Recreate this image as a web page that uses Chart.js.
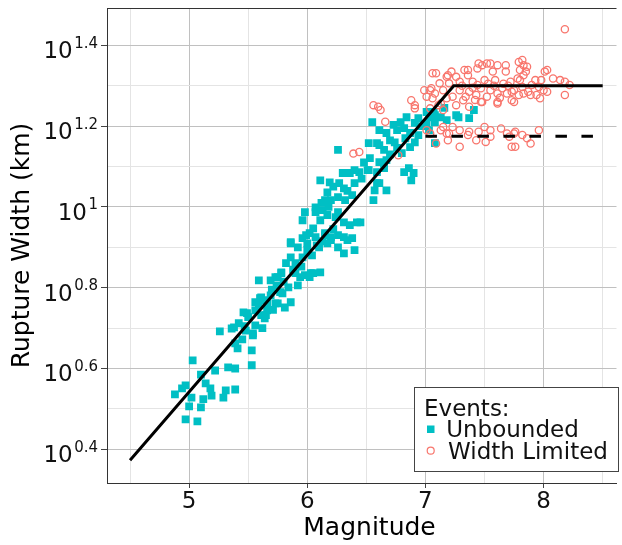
<!DOCTYPE html>
<html>
<head>
<meta charset="utf-8">
<script src="https://cdn.jsdelivr.net/npm/chart.js@4"></script>
<style>
  html, body { margin: 0; padding: 0; background: #fff; }
  #wrap { width: 622px; height: 545px; }
</style>
</head>
<body>
<div id="wrap"><canvas id="chart" width="622" height="545"></canvas></div>
<script>
// ───── Rupture width vs magnitude ─────────────────────────────────────────
// Scatter of unbounded / width-limited events with the bilinear scaling fit.
// Y values are log10(width in km); the axis labels are drawn as 10^x.

// Unbounded events (magnitude, log10 width)
const unbMag = [
  4.88, 4.94, 4.97, 5.03, 5.02, 5.00, 4.97, 5.07, 5.10, 5.12, 5.10, 5.14, 5.18, 5.19, 5.22,
  5.26, 5.31, 5.29, 5.39, 5.33, 5.39, 5.36, 5.42, 5.39, 5.41, 5.46, 5.49, 5.53, 5.53, 5.54,
  5.56, 5.59, 5.61, 5.64, 5.59, 5.56, 5.66, 5.73, 5.73, 5.81, 5.86, 5.77, 5.84, 5.92, 5.90,
  5.98, 6.03, 5.78, 5.38, 5.48, 5.50, 5.56, 5.60, 5.63, 5.65, 5.61, 5.69, 5.69, 5.74, 5.75,
  5.78, 5.79, 5.75, 5.82, 5.86, 5.90, 5.94, 5.86, 5.92, 5.96, 5.96, 6.02, 6.00, 6.05, 6.11,
  6.07, 6.15, 6.17, 6.20, 6.02, 5.54,
  6.26, 6.53, 6.59, 6.65, 6.51, 6.44, 6.36, 6.30, 6.11, 6.19, 6.27, 6.31, 6.40, 6.38, 6.61,
  6.57, 6.17, 6.20, 6.15, 6.26, 6.32, 6.07, 6.07, 6.13, 6.17, 6.11, 5.98, 5.96, 6.26, 6.31,
  6.42, 6.36, 6.05, 5.99, 6.15, 6.26, 6.31, 6.38, 5.86, 6.00, 6.20, 6.10, 6.26, 6.40, 6.31,
  6.34, 6.45,
  6.55, 6.84, 6.94, 7.01, 7.08, 7.16, 7.01, 7.08, 7.26, 6.91, 6.73, 6.61, 6.67, 6.76, 6.82,
  6.87, 6.94, 6.91, 6.70, 6.74, 6.52, 6.61, 6.65, 6.76, 6.80, 6.87, 6.61, 6.67, 6.40, 6.52,
  6.59, 6.65, 6.86, 6.90, 7.08, 6.88, 6.82, 6.67, 6.59, 6.56, 7.37, 7.41, 7.07, 7.03, 7.13,
  7.28, 7.18, 7.03,
  5.88, 5.95, 6.04, 6.08, 6.13, 6.22, 6.24, 6.12, 6.18, 6.22, 6.34, 6.46, 6.48, 5.70, 5.66,
  5.71, 5.80, 5.62, 5.45, 5.47, 6.70, 6.83, 6.97, 6.79
];
const unbLogW = [
  0.536, 0.551, 0.558, 0.620, 0.528, 0.506, 0.474, 0.469, 0.504, 0.524, 0.585, 0.563, 0.551, 0.533, 0.595,
  0.692, 0.546, 0.528, 0.548, 0.603, 0.600, 0.699, 0.712, 0.662, 0.650, 0.739, 0.737, 0.645, 0.608, 0.682,
  0.707, 0.756, 0.776, 0.724, 0.818, 0.744, 0.744, 0.761, 0.826, 0.751, 0.764, 0.789, 0.801, 0.806, 0.836,
  0.831, 0.836, 0.836, 0.702, 0.694, 0.727, 0.764, 0.774, 0.769, 0.732, 0.732, 0.781, 0.818, 0.806, 0.826,
  0.838, 0.786, 0.761, 0.861, 0.875, 0.861, 0.826, 0.910, 0.900, 0.923, 0.875, 0.935, 0.893, 0.836, 0.838,
  0.925, 0.935, 0.910, 0.925, 0.826, 0.687,
  1.141, 1.121, 1.158, 1.108, 1.091, 1.086, 1.084, 1.084, 1.066, 1.061, 1.059, 1.046, 1.059, 1.029, 1.059,
  1.041, 1.036, 1.017, 1.017, 1.024, 1.017, 0.999, 0.987, 0.992, 0.980, 0.967, 0.987, 0.967, 0.987, 0.962,
  0.962, 0.955, 0.947, 0.930, 0.930, 0.930, 0.925, 0.923, 0.913, 0.910, 0.918, 0.900, 0.900, 0.893, 0.885,
  0.918, 0.962,
  1.210, 1.222, 1.220, 1.235, 1.227, 1.245, 1.208, 1.210, 1.227, 1.208, 1.203, 1.190, 1.183, 1.190, 1.195,
  1.183, 1.178, 1.160, 1.165, 1.160, 1.158, 1.153, 1.141, 1.146, 1.133, 1.148, 1.111, 1.116, 1.091, 1.091,
  1.086, 1.096, 1.096, 1.084, 1.158, 1.066, 1.086, 1.041, 1.059, 1.017, 1.220, 1.240, 1.235, 1.222, 1.222,
  1.222, 1.215, 1.190,
  0.845, 0.852, 0.880, 0.905, 0.915, 0.945, 0.975, 1.010, 1.000, 1.050, 1.040, 1.070, 1.110, 0.795, 0.760,
  0.745, 0.815, 0.700, 0.672, 0.705, 1.130, 1.170, 1.200, 1.210
];

// Width limited events (magnitude, log10 width)
const wlMag = [
  6.56, 6.60, 6.62, 6.88, 6.91, 6.91, 6.99, 7.01, 7.05, 7.08, 7.12, 7.15, 7.18, 7.13, 7.09,
  7.18, 7.22, 7.26, 7.33, 7.36, 7.44, 7.48, 7.55, 7.61, 7.68, 7.79, 7.68, 7.57, 7.20, 7.29,
  7.40, 7.50, 7.59, 7.72, 7.80, 7.04, 7.37, 7.47, 7.55, 7.65, 7.75, 7.82, 7.29, 7.06, 7.23,
  7.34, 7.43, 7.52, 7.61, 7.69, 7.79, 7.32, 7.48, 7.75, 7.61, 7.11, 7.04, 7.15, 7.26, 7.37,
  8.18, 7.82, 7.83, 7.86, 7.80, 7.83, 7.78, 8.03, 8.01, 8.08, 8.14, 8.18, 8.22, 7.93, 7.98,
  7.90, 7.96, 8.00, 8.03, 7.94, 7.89, 7.83, 7.73, 7.97, 8.18, 7.45, 7.52, 7.85, 7.06, 7.19,
  7.36, 7.87, 7.73, 7.61, 7.47, 6.66, 7.01, 7.13, 7.18, 7.23, 6.39, 6.44, 6.77, 7.09, 7.04,
  7.20, 7.29, 7.37, 7.45, 7.55, 7.64, 7.69, 7.76, 7.29, 7.43, 7.51, 7.73, 7.19, 7.15, 7.50,
  7.55, 7.71, 7.82, 7.89, 7.96, 7.36, 7.75, 7.86, 7.76,
  7.40, 7.58, 7.66, 7.44, 7.53, 7.31, 7.70, 7.63, 7.42
];
const wlLogW = [
  1.252, 1.248, 1.240, 1.264, 1.252, 1.244, 1.289, 1.273, 1.294, 1.281, 1.306, 1.289, 1.269, 1.256, 1.331,
  1.322, 1.335, 1.322, 1.339, 1.326, 1.343, 1.351, 1.355, 1.351, 1.351, 1.359, 1.335, 1.335, 1.306, 1.310,
  1.310, 1.314, 1.314, 1.310, 1.314, 1.289, 1.285, 1.294, 1.289, 1.294, 1.289, 1.297, 1.289, 1.269, 1.273,
  1.273, 1.277, 1.273, 1.281, 1.281, 1.277, 1.264, 1.260, 1.260, 1.260, 1.252, 1.244, 1.240, 1.252, 1.248,
  1.440, 1.364, 1.351, 1.347, 1.339, 1.326, 1.318, 1.339, 1.335, 1.318, 1.314, 1.310, 1.302, 1.314, 1.314,
  1.302, 1.297, 1.289, 1.285, 1.277, 1.277, 1.281, 1.285, 1.269, 1.277, 1.355, 1.355, 1.335, 1.331, 1.326,
  1.339, 1.285, 1.264, 1.256, 1.260, 1.211, 1.190, 1.190, 1.182, 1.198, 1.132, 1.136, 1.128, 1.157, 1.182,
  1.182, 1.190, 1.186, 1.186, 1.190, 1.194, 1.182, 1.186, 1.149, 1.165, 1.161, 1.149, 1.165, 1.198, 1.198,
  1.174, 1.174, 1.178, 1.157, 1.190, 1.178, 1.182, 1.170, 1.149,
  1.295, 1.300, 1.305, 1.302, 1.305, 1.300, 1.300, 1.270, 1.265
];

// Bilinear scaling relation and the dashed width-limit line
const fitMag = [4.5, 7.24, 8.5];
const fitLogW = [0.373, 1.30, 1.30];
const limMag = [7.0, 8.5];
const limLogW = [1.175, 1.175];

// Axis grid / tick values
const xGridVals = [4.5, 5, 5.5, 6, 6.5, 7, 7.5, 8, 8.5];
const xLabelVals = [5, 6, 7, 8];
const yGridVals = [0.4, 0.5, 0.6, 0.7, 0.8, 0.9, 1.0, 1.1, 1.2, 1.3, 1.4];
const yLabelExps = [0.4, 0.6, 0.8, 1, 1.2, 1.4];

const TEAL = '#00BFC4';
const SALMON = '#F8766D';
const GRID_MAJOR = '#c0c0c0';
const GRID_MINOR = '#e4e4e4';
const FONT = '"DejaVu Sans", sans-serif';

const zip = (xs, ys) => xs.map((x, i) => ({ x, y: ys[i] }));
const isMajorX = (v) => xLabelVals.includes(v);
const isMajorY = (v) => Math.round(v * 10) % 2 === 0;

Chart.defaults.font.family = FONT;

// Superscript y labels, x title, top border and the inset legend.
const overlay = {
  id: 'overlay',
  afterDraw(chart) {
    const { ctx, chartArea: a } = chart;
    const y = chart.scales.y;
    ctx.save();

    ctx.strokeStyle = '#333';
    ctx.lineWidth = 1;
    ctx.beginPath();
    ctx.moveTo(a.left, a.top + 0.5);
    ctx.lineTo(a.right, a.top + 0.5);
    ctx.stroke();

    ctx.fillStyle = '#111';
    ctx.textBaseline = 'alphabetic';
    ctx.textAlign = 'right';
    yLabelExps.forEach((e) => {
      const py = y.getPixelForValue(e);
      const s = String(e);
      ctx.font = '15px ' + FONT;
      const ew = ctx.measureText(s).width;
      ctx.fillText(s, 98, py + 2.5);
      ctx.font = '23px ' + FONT;
      ctx.fillText('10', 98 - ew - 1.5, py + 13);
    });

    // x axis title (the panel in the original runs a bit past the crop)
    ctx.fillStyle = '#000';
    ctx.font = '25px ' + FONT;
    ctx.textAlign = 'center';
    ctx.textBaseline = 'middle';
    ctx.fillText('Magnitude', 369.5, 528.5);

    // legend box
    ctx.textBaseline = 'alphabetic';
    ctx.fillStyle = '#fff';
    ctx.fillRect(414, 387, 205, 85);
    ctx.strokeStyle = '#444';
    ctx.strokeRect(414.5, 387.5, 204, 84);
    ctx.textAlign = 'left';
    ctx.fillStyle = '#111';
    ctx.font = '23px ' + FONT;
    ctx.fillText('Events:', 424, 415.5);
    ctx.fillText('Unbounded', 446.2, 437);
    ctx.fillText('Width Limited', 448, 458.5);
    ctx.fillStyle = TEAL;
    ctx.fillRect(427, 425.5, 7.5, 7.5);
    ctx.strokeStyle = SALMON;
    ctx.lineWidth = 1.2;
    ctx.beginPath();
    ctx.arc(430.7, 450.7, 3.5, 0, Math.PI * 2);
    ctx.stroke();

    ctx.restore();
  }
};

new Chart(document.getElementById('chart'), {
  type: 'scatter',
  data: {
    datasets: [
      {
        label: 'Fit',
        type: 'line',
        data: zip(fitMag, fitLogW),
        borderColor: '#000',
        borderWidth: 3,
        pointRadius: 0,
        fill: false,
        order: 0,
      },
      {
        label: 'Width limit',
        type: 'line',
        data: zip(limMag, limLogW),
        borderColor: '#000',
        borderWidth: 3,
        borderDash: [11.5, 14.5],
        pointRadius: 0,
        fill: false,
        order: 0,
      },
      {
        label: 'Width Limited',
        data: zip(wlMag, wlLogW),
        pointStyle: 'circle',
        pointRadius: 3.6,
        borderWidth: 1.3,
        borderColor: SALMON,
        backgroundColor: 'rgba(0,0,0,0)',
        order: 1,
      },
      {
        label: 'Unbounded',
        data: zip(unbMag, unbLogW),
        pointStyle: 'rect',
        pointRadius: 5.5,
        borderWidth: 0,
        backgroundColor: TEAL,
        order: 2,
      },
    ],
  },
  options: {
    responsive: false,
    animation: false,
    events: [],
    layout: { padding: { top: 8, left: 0, right: 0, bottom: 0 } },
    plugins: { legend: { display: false }, tooltip: { enabled: false } },
    scales: {
      x: {
        type: 'linear',
        min: 4.305,
        max: 8.617,
        afterBuildTicks: (s) => { s.ticks = xGridVals.map((v) => ({ value: v })); },
        afterFit: (s) => { s.height = 62; },
        grid: {
          color: (c) => (c.tick && isMajorX(c.tick.value) ? GRID_MAJOR : GRID_MINOR),
          tickColor: (c) => (c.tick && isMajorX(c.tick.value) ? '#444' : 'rgba(0,0,0,0)'),
          tickLength: 5,
        },
        border: { color: '#333', width: 1 },
        ticks: {
          autoSkip: false,
          maxRotation: 0,
          padding: 0,
          color: '#111',
          font: { size: 23 },
          callback: (v) => (isMajorX(v) ? String(v) : ''),
        },
        title: { display: false },
      },
      y: {
        type: 'linear',
        min: 0.3165,
        max: 1.4925,
        afterBuildTicks: (s) => { s.ticks = yGridVals.map((v) => ({ value: v })); },
        afterFit: (s) => { s.width = 107; },
        grid: {
          color: (c) => (c.tick && isMajorY(c.tick.value) ? GRID_MAJOR : GRID_MINOR),
          tickColor: (c) => (c.tick && isMajorY(c.tick.value) ? '#444' : 'rgba(0,0,0,0)'),
          tickLength: 6,
        },
        border: { color: '#333', width: 1 },
        ticks: { display: false },
        title: { display: true, text: 'Rupture Width (km)', color: '#000', font: { size: 25 }, padding: 7 },
      },
    },
  },
  plugins: [overlay],
});
</script>
</body>
</html>
